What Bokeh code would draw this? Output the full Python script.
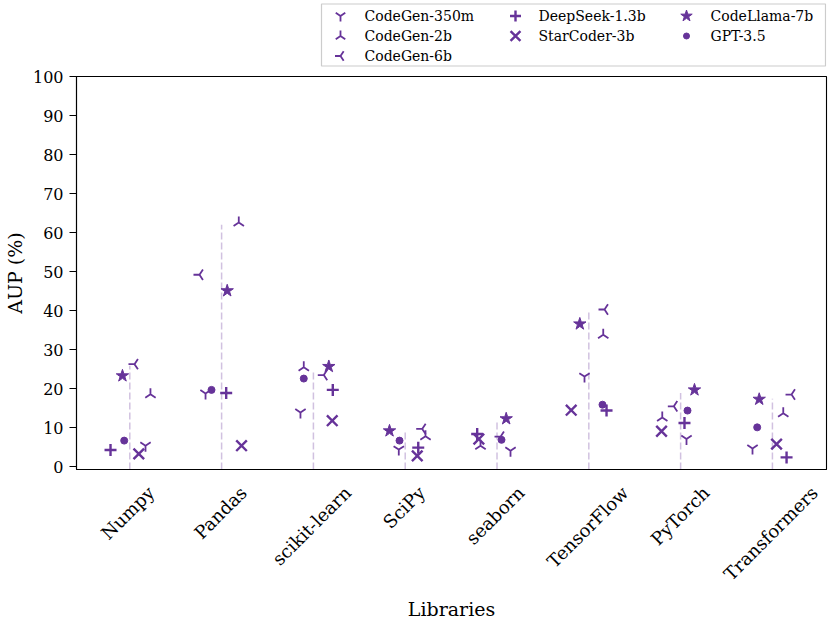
import math
from bokeh.plotting import figure
from bokeh.layouts import column
from bokeh.models import Range1d, FixedTicker, ColumnDataSource
from bokeh.core.properties import value
from bokeh.embed import file_html
from bokeh.resources import INLINE

libraries = ["Numpy", "Pandas", "scikit-learn", "SciPy", "seaborn",
             "TensorFlow", "PyTorch", "Transformers"]

models = ["CodeGen-350m", "CodeGen-2b", "CodeGen-6b", "DeepSeek-1.3b",
          "StarCoder-3b", "CodeLlama-7b", "GPT-3.5"]

# AUP (%) per library, for each model
codegen_350m = [5.4, 18.8, 13.9, 4.4, 4.1, 23.1, 7.1, 4.7]
codegen_2b = [18.6, 62.6, 25.5, 7.8, 5.4, 33.8, 12.6, 13.7]
codegen_6b = [26.3, 49.2, 23.5, 9.7, 7.7, 40.3, 15.5, 18.5]
deepseek_13b = [4.3, 18.9, 19.7, 4.9, 8.4, 14.4, 11.2, 2.4]
starcoder_3b = [3.3, 5.4, 11.8, 2.8, 7.1, 14.5, 9.1, 5.8]
codellama_7b = [23.3, 45.1, 25.7, 9.2, 12.3, 36.6, 19.7, 17.3]
gpt_35 = [6.7, 19.7, 22.6, 6.7, 6.9, 15.9, 14.4, 10.1]

# horizontal jitter of each point (category units)
jit_350m = [0.171, -0.175, -0.141, -0.070, 0.147, -0.047, 0.064, -0.217]
jit_2b = [0.225, 0.187, -0.105, 0.221, -0.180, 0.157, -0.200, 0.118]
jit_6b = [0.051, -0.241, 0.113, 0.185, 0.038, 0.171, -0.074, 0.208]
jit_deepseek = [-0.210, 0.050, 0.211, 0.142, -0.216, 0.193, 0.042, 0.154]
jit_starcoder = [0.098, 0.217, 0.205, 0.131, -0.198, -0.192, -0.208, 0.045]
jit_codellama = [-0.080, 0.061, 0.168, -0.171, 0.100, -0.098, 0.151, -0.144]
jit_gpt = [-0.061, -0.110, -0.105, -0.062, 0.049, 0.149, 0.075, -0.166]

# height of the dashed guide line per library
guide_top = [25.9, 62.0, 24.2, 9.0, 11.8, 39.8, 18.9, 17.4]

y_ticks = list(range(0, 101, 10))

PURPLE = "#663399"
FONT = "DejaVu Serif"

STYLES = [
    dict(marker="y", size=12, angle=0.0, line_width=1.8),
    dict(marker="y", size=12, angle=math.pi, line_width=1.8),
    dict(marker="y", size=12, angle=-math.pi / 2, line_width=1.8),
    dict(marker="cross", size=12, angle=0.0, line_width=2.4),
    dict(marker="x", size=15, angle=0.0, line_width=2.4),
    dict(marker="star", size=13, angle=0.0, line_width=1),
    dict(marker="circle", size=7, angle=0.0, line_width=1),
]

W = 830
LEG_H = 67
MAIN_H = 623 - LEG_H
BL, BR = 76, 4
FRAME_W = W - BL - BR

# ---------------- legend strip (same frame edges as main chart) ----------------
leg = figure(width=W, height=LEG_H, x_range=Range1d(0, FRAME_W), y_range=Range1d(0, LEG_H),
             output_backend="svg", toolbar_location=None,
             min_border_left=BL, min_border_right=BR, min_border_top=0,
             min_border_bottom=0, x_axis_location=None, y_axis_location=None)
leg.grid.visible = False
leg.outline_line_color = None

box_l, box_r = 245, FRAME_W - 1
box_b, box_t = 1.5, LEG_H - 3.5
leg.quad(left=[box_l], right=[box_r], bottom=[box_b], top=[box_t],
         fill_color="white", line_color="#cccccc", line_width=1.2)

col_marker = [box_l + d for d in (19, 194, 365)]
col_text = [box_l + d for d in (43, 217, 389)]
row_y = [box_t - 12, box_t - 32, box_t - 52]
slots = [(0, 0), (0, 1), (0, 2), (1, 0), (1, 1), (2, 0), (2, 1)]
for k, (c, r) in enumerate(slots):
    st = STYLES[k]
    leg.scatter(x=[col_marker[c]], y=[row_y[r]], marker=st["marker"], size=st["size"] - 1,
                angle=st["angle"], line_color=PURPLE, fill_color=PURPLE,
                line_width=st["line_width"])
    leg.text(x=[col_text[c]], y=[row_y[r]], text=[models[k]], text_font=value(FONT),
             text_font_size="14px", text_color="black", text_align="left",
             text_baseline="middle")

# ---------------- main chart ----------------
BT = 9
FRAME_H = 392.7
BB = MAIN_H - BT - FRAME_H
Y0, Y1 = -0.7, 100
X0, X1 = -0.5806, 7.589
ppu_x = FRAME_W / (X1 - X0)

p = figure(width=W, height=MAIN_H, x_range=Range1d(X0, X1), y_range=Range1d(Y0, Y1),
           output_backend="svg", toolbar_location=None,
           min_border_left=BL, min_border_right=BR, min_border_top=BT,
           min_border_bottom=int(round(BB)))
p.grid.visible = False
p.outline_line_color = "black"
p.outline_line_width = 1.1
p.outline_line_alpha = 1.0

xs = list(range(len(libraries)))
p.segment(x0=xs, y0=[Y0] * len(xs), x1=xs, y1=guide_top,
          line_color=PURPLE, line_alpha=0.3, line_width=1.5, line_dash="7 3")

series_vals = [codegen_350m, codegen_2b, codegen_6b, deepseek_13b,
               starcoder_3b, codellama_7b, gpt_35]
series_jit = [jit_350m, jit_2b, jit_6b, jit_deepseek, jit_starcoder,
              jit_codellama, jit_gpt]
for vals, jit, st in zip(series_vals, series_jit, STYLES):
    src = ColumnDataSource(dict(x=[i + j for i, j in zip(xs, jit)], y=vals))
    p.scatter("x", "y", source=src, marker=st["marker"], size=st["size"],
              angle=st["angle"], line_color=PURPLE, fill_color=PURPLE,
              line_width=st["line_width"])

# y axis
p.yaxis.ticker = FixedTicker(ticks=y_ticks)
p.yaxis.axis_label = "AUP (%)"
p.yaxis.axis_label_text_font = FONT
p.yaxis.axis_label_text_font_size = "19px"
p.yaxis.axis_label_text_font_style = "normal"
p.yaxis.axis_label_text_color = "black"
p.yaxis.axis_label_standoff = 4
p.yaxis.major_label_text_font = FONT
p.yaxis.major_label_text_font_size = "16px"
p.yaxis.major_label_text_color = "black"
p.yaxis.major_label_standoff = 6
p.yaxis.major_tick_out = 7
p.yaxis.major_tick_in = 0
p.yaxis.minor_tick_line_color = None
p.yaxis.axis_line_width = 1.1
p.yaxis.major_tick_line_width = 1.1

# x axis: rotated labels, each shifted so that the text is centred on its category
CW = {"N": .80, "u": .64, "m": .95, "p": .64, "y": .59, "P": .73, "a": .60,
      "n": .64, "d": .64, "s": .51, "c": .56, "i": .32, "k": .61, "t": .40,
      "-": .34, "l": .32, "e": .59, "r": .48, "S": .69, "C": .73, "b": .64,
      "o": .60, "T": .70, "F": .70, "w": .86, "h": .64, "f": .37}
FS = 18
tick_pos = []
overrides = {}
for i, lab in enumerate(libraries):
    L = sum(CW.get(ch, 0.6) for ch in lab) * FS
    t = round(i + (L / (2 * math.sqrt(2))) / ppu_x - 0.02, 4)
    tick_pos.append(t)
    overrides[t] = lab
p.xaxis.ticker = FixedTicker(ticks=tick_pos)
p.xaxis.major_label_overrides = overrides
p.xaxis.major_label_orientation = math.pi / 4
p.xaxis.major_label_text_font = FONT
p.xaxis.major_label_text_font_size = f"{FS}px"
p.xaxis.major_label_text_color = "black"
p.xaxis.major_label_standoff = 20
p.xaxis.major_tick_line_color = None
p.xaxis.major_tick_out = 0
p.xaxis.major_tick_in = 0
p.xaxis.minor_tick_line_color = None
p.xaxis.axis_line_width = 1.1
p.xaxis.axis_label = "Libraries"
p.xaxis.axis_label_text_font = FONT
p.xaxis.axis_label_text_font_size = "19px"
p.xaxis.axis_label_text_font_style = "normal"
p.xaxis.axis_label_text_color = "black"
p.xaxis.axis_label_standoff = 3

layout = column(leg, p, spacing=0)
open("out.html", "w").write(file_html(layout, INLINE))
